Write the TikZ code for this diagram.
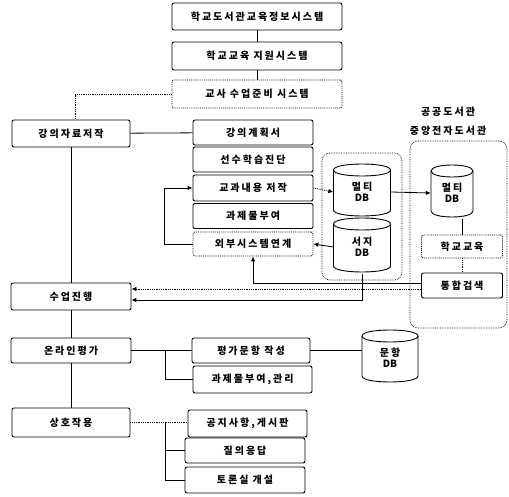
\documentclass[tikz,border=0pt]{standalone}
\usepackage{fontspec}
\setmainfont{Noto Sans CJK KR}[LetterSpace=20,BoldFont={Noto Sans CJK KR Black}]
\newfontfamily\dbfont{Noto Sans CJK KR}[BoldFont={Noto Sans CJK KR Black}]
\usetikzlibrary{arrows.meta}
\usetikzlibrary{positioning}
\tikzset{>={Latex[length=5pt,width=4.5pt]}}
\tikzset{
  box/.style={draw,line width=0.9pt,rounded corners=2pt,inner sep=1pt,
    font=\bfseries\fontsize{10}{11}\selectfont},
  dotbox/.style={box,densely dotted,line width=0.8pt},
  db/.style={inner sep=0pt,align=center,font=\bfseries\fontsize{10}{11}\selectfont},
  dbline/.style={line width=0.9pt},
  link/.style={line width=0.8pt},
  dlink/.style={densely dotted,line width=0.8pt},
  group/.style={densely dotted,line width=0.7pt,rounded corners=8pt},
}
\newcommand{\dbname}[1]{#1\\{\dbfont\bfseries DB}}
% cylinder: centre x, centre y, half width, half height
\newcommand{\dbdraw}[4]{%
  \draw[dbline] (#1-#3,#2-#4+6) -- (#1-#3,#2+#4-6)
    .. controls (#1-#3,#2+#4+2) and (#1+#3,#2+#4+2) .. (#1+#3,#2+#4-6)
    -- (#1+#3,#2-#4+6);
  \draw[dbline] (#1-#3,#2-#4+6) .. controls (#1-#3,#2-#4-2) and (#1+#3,#2-#4-2) .. (#1+#3,#2-#4+6)
    .. controls (#1+#3,#2-#4+14) and (#1-#3,#2-#4+14) .. (#1-#3,#2-#4+6);
}

\begin{document}
\begin{tikzpicture}[x=1pt,y=-1pt]
\useasboundingbox (0,0) rectangle (509,497);

% Systems
\node[box,minimum width=170pt,minimum height=27pt] (libsys) at (257,16.5) {학교도서관교육정보시스템};
\node[box,minimum width=170pt,minimum height=28pt] (supsys) at (257,56) {학교교육 지원시스템};
\node[dotbox,minimum width=170pt,minimum height=28pt] (prepsys) at (257,94) {교사 수업준비 시스템};
\draw[link] (libsys) -- (supsys);
\draw[link] (supsys) -- (prepsys);

% Left column
\node[box,minimum width=118pt,minimum height=27pt] (author) at (71,133.5) {강의자료저작};
\node[box,minimum width=120pt,minimum height=27pt] (lesson) at (71,296.5) {수업진행};
\node[box,minimum width=120pt,minimum height=25pt] (online) at (71,350.5) {온라인평가};
\node[box,minimum width=118pt,minimum height=29pt] (interact) at (71,422.5) {상호작용};

\draw[dlink] (prepsys.west) -| ([xshift=4pt]author.north);
\draw[link] (author) -- (lesson);
\draw[link] (lesson) -- (online);
\draw[link] (online) -- (interact);

% Authoring tasks
\node[box,minimum width=120pt,minimum height=25pt] (plan) at (253,132.5) {강의계획서};
\node[box,minimum width=120pt,minimum height=25pt] (pretest) at (253,159.5) {선수학습진단};
\node[box,minimum width=120pt,minimum height=26pt] (content) at (253,188) {교과내용 저작};
\node[box,minimum width=120pt,minimum height=25pt] (task) at (253,216) {과제물부여};
\node[dotbox,minimum width=120pt,minimum height=24pt] (extlink) at (253,244) {외부시스템연계};

\draw[link] (author) -- (plan);
\draw[link,->] (extlink.west) -- ++(-28,0) |- (content.west);

% DBs
\draw[group] (322,153) rectangle (402,280);
\dbdraw{362}{190}{28.5}{26}
\node[db,minimum width=57pt,minimum height=52pt] (multidb) at (362,192) {\dbname{멀티}};
\dbdraw{362}{245}{28.5}{27}
\node[db,minimum width=57pt,minimum height=54pt] (bibdb) at (362,247) {\dbname{서지}};

\draw[dlink,->] (content.east) -- (multidb.west);
\draw[link,->] (bibdb.west) -- (extlink.east);

% Public library
\node[font=\bfseries\fontsize{10}{11}\selectfont] (publib) at (448,112) {공공도서관};
\node[font=\bfseries\fontsize{10}{11}\selectfont] (elib) at (448,131) {중앙전자도서관};
\draw[group] (410,141) rectangle (507,328);
\dbdraw{452}{191}{21}{26}
\node[db,minimum width=42pt,minimum height=52pt] (libdb) at (452,193) {\dbname{멀티}};
\node[dotbox,minimum width=81pt,minimum height=23pt] (school) at (462,246.5) {학교교육};
\node[box,minimum width=81pt,minimum height=25pt] (search) at (462,285.5) {통합검색};

\draw[link,->] (multidb.east) -- (libdb.west);
\draw[link] (school.north) -- (school.north |- libdb.south);
\draw[dlink] (school) -- (search);

% Search and DB to class
\draw[link,->] ([yshift=2.5pt]search.west) -| (extlink.south);
\draw[dlink,->] ([yshift=-3.5pt]search.west) -- ([yshift=-3.5pt]search.west -| lesson.east);
\draw[link,->] (bibdb.south) |- ([yshift=-3.5pt]lesson.east);

% Evaluation
\node[box,minimum width=118pt,minimum height=25pt] (question) at (251,350.5) {평가문항 작성};
\node[box,minimum width=119pt,minimum height=27pt] (homework) at (252.5,379.5) {과제물부여,관리};
\dbdraw{390}{356}{28}{26}
\node[db,minimum width=56pt,minimum height=52pt] (itemdb) at (390,358) {\dbname{문항}};
\coordinate (evalfork) at (165,350.5);

\draw[link] (online) -- (question);
\draw[link] (evalfork) |- (homework.west);
\draw[link] (question) -- (itemdb.west |- question.east);

% Interaction
\node[box,minimum width=119pt,minimum height=27pt] (notice) at (247.5,423.5) {공지사항,게시판};
\node[box,minimum width=120pt,minimum height=25pt] (qna) at (245,450.5) {질의응답};
\node[box,minimum width=120pt,minimum height=26pt] (forum) at (245,480) {토론실 개설};
\coordinate (talkfork) at (165,422.5);

\draw[dlink] (interact.east) -- (interact.east -| notice.west);
\draw[link] (talkfork) |- (qna.west);
\draw[link] (talkfork) |- (forum.west);

\end{tikzpicture}
\end{document}
